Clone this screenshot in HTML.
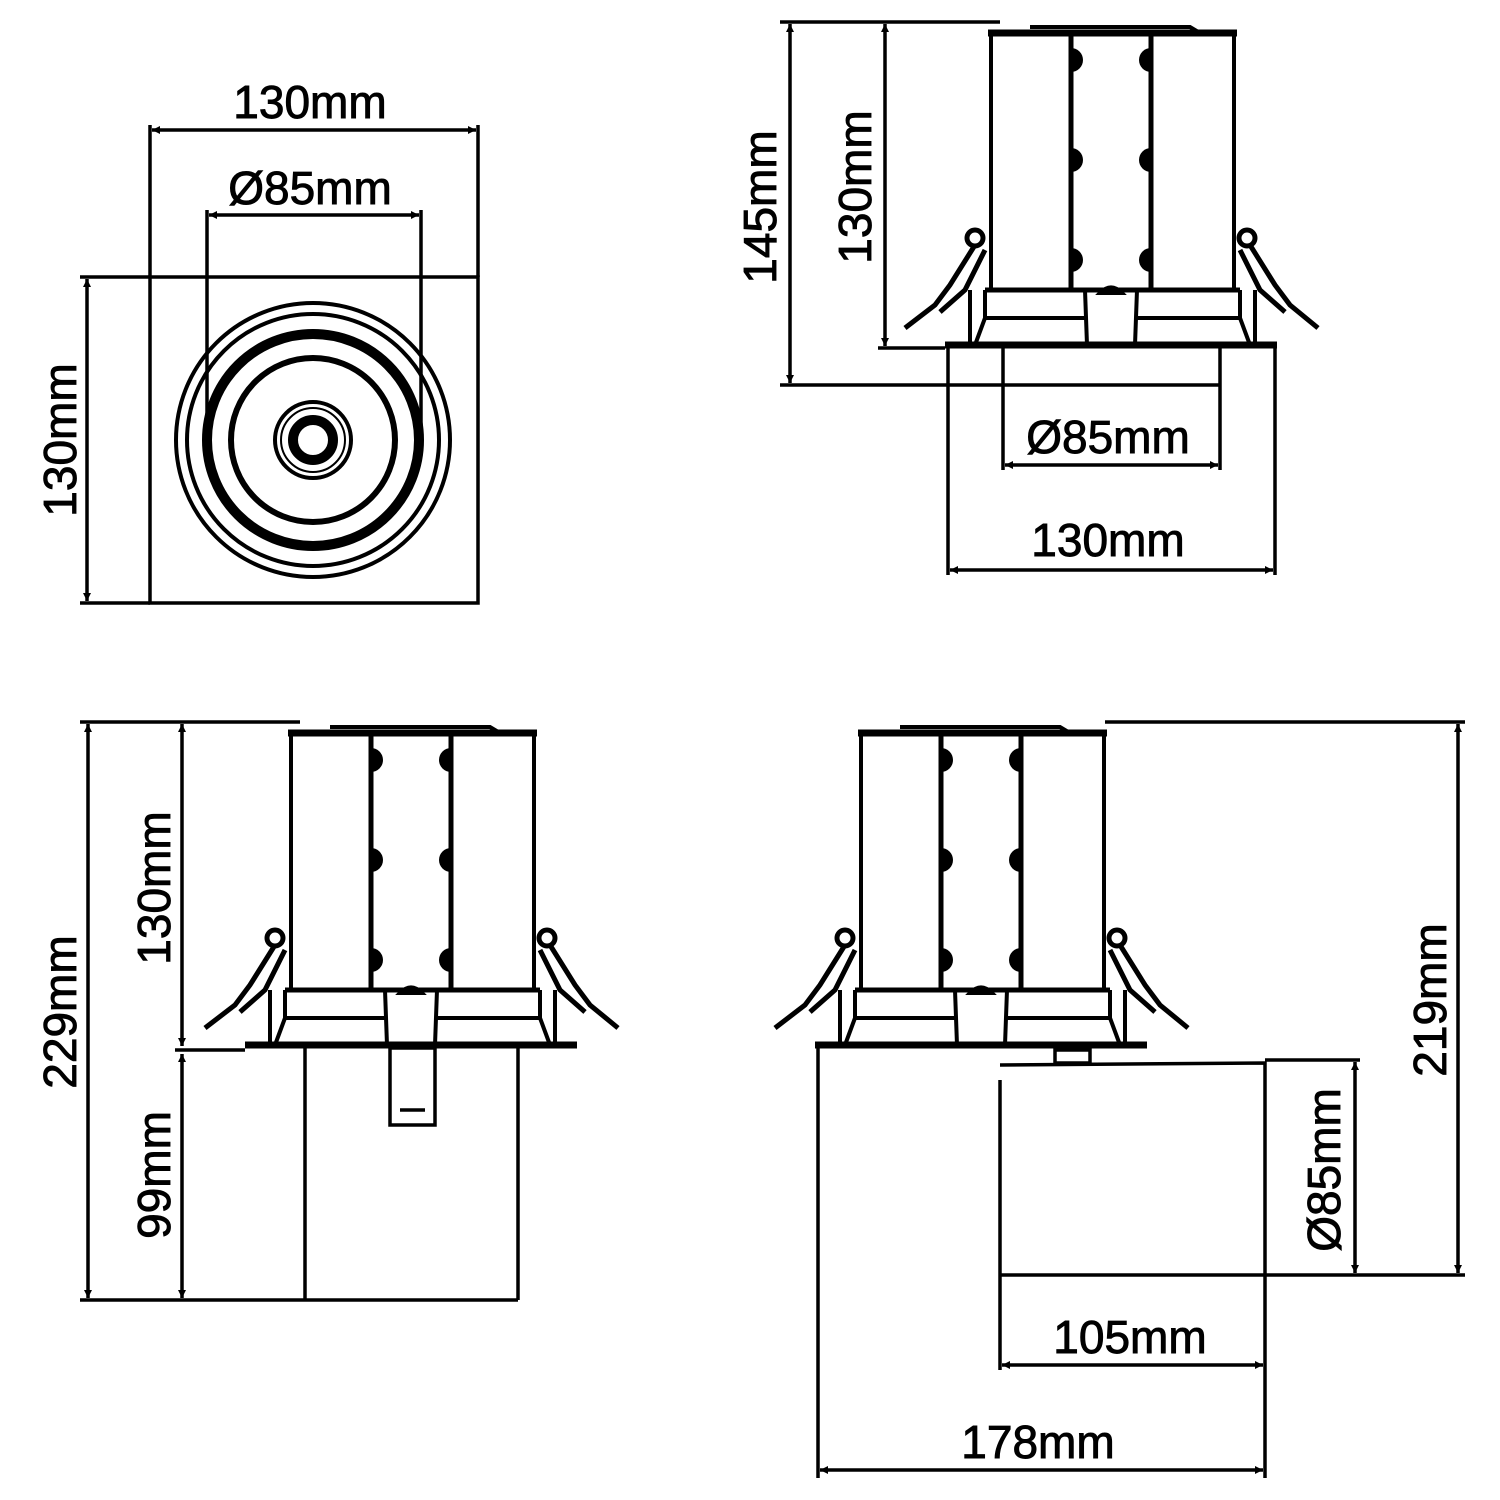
<!DOCTYPE html>
<html><head><meta charset="utf-8"><style>html,body{margin:0;padding:0;background:#fff}svg{display:block}text{font-family:"Liberation Sans",sans-serif;font-size:46px;fill:#000;stroke:#000;stroke-width:0.9}</style></head>
<body>
<svg width="1500" height="1500" viewBox="0 0 1500 1500" xmlns="http://www.w3.org/2000/svg">
<defs>
<marker id="a" viewBox="0 0 10 10" refX="10" refY="5" markerWidth="24" markerHeight="8" markerUnits="userSpaceOnUse" orient="auto-start-reverse"><path d="M0,0 L10,5 L0,10 Z" fill="#000"/></marker>
<g id="body" fill="none" stroke="#000" stroke-width="4">
<path d="M1030,27 L1190,27 L1200,33" stroke-width="4"/>
<line x1="988" y1="33" x2="1237" y2="33" stroke-width="7"/>
<line x1="991" y1="33" x2="991" y2="290" stroke-width="4"/>
<line x1="1234" y1="33" x2="1234" y2="290" stroke-width="4"/>
<line x1="1071" y1="33" x2="1071" y2="290" stroke-width="5"/>
<line x1="1151" y1="33" x2="1151" y2="290" stroke-width="5"/>
<g fill="#000" stroke="none">
<path d="M1071,48 A12,12 0 0 1 1071,72 Z"/><path d="M1151,48 A12,12 0 0 0 1151,72 Z"/>
<path d="M1071,148 A12,12 0 0 1 1071,172 Z"/><path d="M1151,148 A12,12 0 0 0 1151,172 Z"/>
<path d="M1071,248 A12,12 0 0 1 1071,272 Z"/><path d="M1151,248 A12,12 0 0 0 1151,272 Z"/>
</g>
<line x1="985" y1="290" x2="1240" y2="290" stroke-width="5"/>
<line x1="985" y1="318" x2="1085" y2="318"/><line x1="1137" y1="318" x2="1240" y2="318"/>
<path d="M985,290 L985,318 L975,345 M1240,290 L1240,318 L1250,345"/>
<line x1="970" y1="290" x2="970" y2="345"/><line x1="1255" y1="290" x2="1255" y2="345"/>
<path d="M1085,290 L1087,345 M1137,290 L1135,345"/>
<path d="M1100,293 Q1111,282 1122,293 Z" fill="#000"/>
<path d="M975,245 L950,285 L935,305 L905,328" stroke-width="5"/>
<path d="M985,250 L965,290 L940,312" stroke-width="5"/>
<circle cx="975" cy="238" r="8" stroke-width="5"/>
<path d="M1250,245 L1275,285 L1290,305 L1318,328" stroke-width="5"/>
<path d="M1240,250 L1260,290 L1285,312" stroke-width="5"/>
<circle cx="1247" cy="238" r="8" stroke-width="5"/>
<line x1="945" y1="345" x2="1277" y2="345" stroke-width="7"/>
</g>
</defs>

<g fill="none" stroke="#000" stroke-width="3.5">
<rect x="150" y="277" width="328" height="326"/>
<line x1="80" y1="277" x2="150" y2="277"/><line x1="80" y1="603" x2="150" y2="603"/>
<line x1="87" y1="279" x2="87" y2="601" marker-start="url(#a)" marker-end="url(#a)"/>
<line x1="150" y1="125" x2="150" y2="277"/><line x1="478" y1="125" x2="478" y2="277"/>
<line x1="152" y1="130" x2="476" y2="130" marker-start="url(#a)" marker-end="url(#a)"/>
<line x1="207" y1="210" x2="207" y2="440"/><line x1="421" y1="210" x2="421" y2="440"/>
<line x1="209" y1="215" x2="419" y2="215" marker-start="url(#a)" marker-end="url(#a)"/>
<circle cx="313" cy="440" r="137" stroke-width="4"/><circle cx="313" cy="440" r="126" stroke-width="4"/>
<circle cx="313" cy="440" r="106" stroke-width="10"/><circle cx="313" cy="440" r="82" stroke-width="6"/>
<circle cx="313" cy="440" r="38" stroke-width="4"/><circle cx="313" cy="440" r="32" stroke-width="2"/>
<circle cx="313" cy="440" r="20" stroke-width="10"/>
</g>
<text x="310" y="118" text-anchor="middle">130mm</text>
<text x="310" y="204" text-anchor="middle">Ø85mm</text>
<text transform="translate(76,440) rotate(-90)" text-anchor="middle">130mm</text>

<use href="#body"/>
<g fill="none" stroke="#000" stroke-width="3.5">
<line x1="780" y1="22" x2="1000" y2="22"/>
<line x1="878" y1="348" x2="945" y2="348"/>
<line x1="780" y1="385" x2="1220" y2="385"/>
<line x1="790" y1="24" x2="790" y2="383" marker-start="url(#a)" marker-end="url(#a)"/>
<line x1="885" y1="24" x2="885" y2="346" marker-start="url(#a)" marker-end="url(#a)"/>
<line x1="948" y1="345" x2="948" y2="575"/><line x1="1275" y1="345" x2="1275" y2="575"/>
<line x1="1003" y1="348" x2="1003" y2="470"/><line x1="1220" y1="348" x2="1220" y2="470"/>
<line x1="1005" y1="465" x2="1218" y2="465" marker-start="url(#a)" marker-end="url(#a)"/>
<line x1="950" y1="570" x2="1273" y2="570" marker-start="url(#a)" marker-end="url(#a)"/>
</g>
<text transform="translate(776,207) rotate(-90)" text-anchor="middle">145mm</text>
<text transform="translate(871,187) rotate(-90)" text-anchor="middle">130mm</text>
<text x="1108" y="453" text-anchor="middle">Ø85mm</text>
<text x="1108" y="556" text-anchor="middle">130mm</text>

<use href="#body" transform="translate(-700,700)"/>
<g fill="none" stroke="#000" stroke-width="3.5">
<line x1="80" y1="722" x2="300" y2="722"/>
<line x1="175" y1="1050" x2="245" y2="1050"/>
<line x1="80" y1="1300" x2="518" y2="1300"/>
<line x1="88" y1="724" x2="88" y2="1298" marker-start="url(#a)" marker-end="url(#a)"/>
<line x1="182" y1="724" x2="182" y2="1046" marker-start="url(#a)" marker-end="url(#a)"/>
<line x1="182" y1="1054" x2="182" y2="1298" marker-start="url(#a)" marker-end="url(#a)"/>
<line x1="305" y1="1048" x2="305" y2="1300"/><line x1="518" y1="1048" x2="518" y2="1300"/>
<rect x="390" y="1048" width="45" height="77"/>
<line x1="400" y1="1110" x2="425" y2="1110"/>
</g>
<text transform="translate(76,1012) rotate(-90)" text-anchor="middle">229mm</text>
<text transform="translate(170,888) rotate(-90)" text-anchor="middle">130mm</text>
<text transform="translate(170,1175) rotate(-90)" text-anchor="middle">99mm</text>

<use href="#body" transform="translate(-130,700)"/>
<g fill="none" stroke="#000" stroke-width="3.5">
<line x1="1105" y1="722" x2="1465" y2="722"/>
<line x1="1458" y1="724" x2="1458" y2="1273" marker-start="url(#a)" marker-end="url(#a)"/>
<line x1="1000" y1="1275" x2="1465" y2="1275"/>
<line x1="1265" y1="1060" x2="1360" y2="1060"/>
<line x1="1355" y1="1062" x2="1355" y2="1273" marker-start="url(#a)" marker-end="url(#a)"/>
<line x1="818" y1="1048" x2="818" y2="1478"/>
<path d="M1000,1080 L1000,1370 M1000,1065 L1265,1063 L1265,1478"/>
<rect x="1055" y="1050" width="35" height="13"/>
<line x1="1002" y1="1365" x2="1263" y2="1365" marker-start="url(#a)" marker-end="url(#a)"/>
<line x1="820" y1="1470" x2="1263" y2="1470" marker-start="url(#a)" marker-end="url(#a)"/>
</g>
<text transform="translate(1446,1000) rotate(-90)" text-anchor="middle">219mm</text>
<text transform="translate(1340,1170) rotate(-90)" text-anchor="middle">Ø85mm</text>
<text x="1130" y="1353" text-anchor="middle">105mm</text>
<text x="1038" y="1458" text-anchor="middle">178mm</text>
</svg>
</body></html>
